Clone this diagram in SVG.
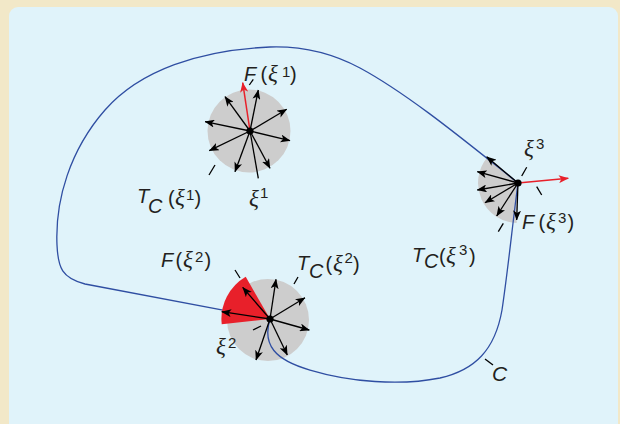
<svg xmlns="http://www.w3.org/2000/svg" width="620" height="424" viewBox="0 0 620 424">
<defs>
<style>
.lbl{font-family:"Liberation Sans",Arial,sans-serif;font-size:20px;fill:#231f20}
.it{font-style:italic}
.xi{font-family:"Liberation Serif","Times New Roman",serif;font-style:italic;font-size:23px}
.sup{font-size:15px;font-style:normal}
.arr{stroke:#000;stroke-width:1.3;fill:none;marker-end:url(#ah)}
.arr-red{stroke:#e8202a;stroke-width:1.5;fill:none;marker-end:url(#ahr)}
.tick{stroke:#000;stroke-width:1.3;fill:none}
.cone{fill:#cdcdcd}
.curve{stroke:#2f4ea2;stroke-width:1.3;fill:none}
</style>
<marker id="ah" viewBox="0 0 10 8" refX="9.5" refY="4" markerWidth="10" markerHeight="8" markerUnits="userSpaceOnUse" orient="auto"><path d="M0,0 L10,4 L0,8 L2.5,4 z" fill="#000"/></marker>
<marker id="ahr" viewBox="0 0 10 8" refX="9.5" refY="4" markerWidth="11" markerHeight="8" markerUnits="userSpaceOnUse" orient="auto"><path d="M0,0 L10,4 L0,8 L2.5,4 z" fill="#e8202a"/></marker>
</defs>
<rect x="0" y="0" width="620" height="424" fill="#f2e8c8"/>
<rect x="9" y="7" width="609" height="430" rx="9" fill="#e0f3fa"/>

<!-- cones (drawn below the curve) -->
<circle class="cone" cx="249" cy="131" r="41.5"/>
<circle class="cone" cx="268" cy="320" r="41"/>
<path class="cone" d="M518 183 L487.4 157.3 A40 40 0 0 0 516.6 223 Z"/>

<g id="connectors">
<path id="curve-C" class="curve" d="M270 319 C262 345 275 360 310 370 C350 382 400 386 440 378 C475 370 495 350 502 310 C508 270 513 220 518 183 C470 145 410 95 360 68 C330 52 300 46 270 47 C200 50 140 70 105 110 C70 150 55 200 57 245 C58 268 62 278 85 284 L270 319"/>
</g>

<g id="node-xi1">
<line class="arr-red" x1="250" y1="131" x2="242.7" y2="82.7"/>
<line class="arr" x1="250" y1="131" x2="258.3" y2="90"/>
<line class="arr" x1="250" y1="131" x2="225" y2="96.7"/>
<line class="arr" x1="250" y1="131" x2="286.7" y2="109.3"/>
<line class="arr" x1="250" y1="131" x2="205" y2="121.7"/>
<line class="arr" x1="250" y1="131" x2="290" y2="140.7"/>
<line class="arr" x1="250" y1="131" x2="209.3" y2="150.7"/>
<line class="arr" x1="250" y1="131" x2="235" y2="171.7"/>
<line class="arr" x1="250" y1="131" x2="270" y2="168.3"/>
<line class="tick" x1="250" y1="131" x2="258.3" y2="178.3"/>
<circle cx="250" cy="131" r="3.6" fill="#000"/>
<line class="tick" x1="249.3" y1="85" x2="253.3" y2="79.3"/>
<line class="tick" x1="209" y1="175" x2="215" y2="165"/>
<text class="lbl" y="81"><tspan x="244" class="it">F</tspan><tspan x="260.5">(</tspan><tspan x="268" class="xi">ξ</tspan><tspan x="282" y="77" class="sup">1</tspan><tspan x="290" y="81">)</tspan></text>
<text class="lbl" y="203"><tspan x="137" class="it">T</tspan><tspan x="148" y="213" class="it">C</tspan><tspan x="168" y="205">(</tspan><tspan x="175" class="xi">ξ</tspan><tspan x="186" y="200" class="sup">1</tspan><tspan x="194.5" y="205">)</tspan></text>
<text class="lbl" y="206"><tspan x="249" class="xi">ξ</tspan><tspan x="260" y="198" class="sup">1</tspan></text>
</g>

<g id="node-xi2">
<path d="M270 319 L245.7 276.7 A49 49 0 0 0 221.7 324.3 Z" fill="#e8202a"/>
<line class="arr" x1="270" y1="319" x2="242.7" y2="287.3"/>
<line class="arr" x1="270" y1="319" x2="221.7" y2="311.7"/>
<line class="arr" x1="270" y1="319" x2="276" y2="279.3"/>
<line class="arr" x1="270" y1="319" x2="305" y2="297.7"/>
<line class="arr" x1="270" y1="319" x2="309.3" y2="330"/>
<line class="arr" x1="270" y1="319" x2="287.3" y2="355"/>
<line class="arr" x1="270" y1="319" x2="256" y2="360"/>
<circle cx="270" cy="319" r="3.6" fill="#000"/>
<line class="tick" x1="235" y1="270" x2="240" y2="278"/>
<line class="tick" x1="294" y1="284" x2="298" y2="277"/>
<line class="tick" x1="253" y1="330" x2="261" y2="326"/>
<text class="lbl" y="267"><tspan x="161" class="it">F</tspan><tspan x="175.5">(</tspan><tspan x="183" class="xi">ξ</tspan><tspan x="195" y="262" class="sup">2</tspan><tspan x="204.5" y="267">)</tspan></text>
<text class="lbl" y="270"><tspan x="297" class="it">T</tspan><tspan x="309" y="278" class="it">C</tspan><tspan x="325.5" y="271">(</tspan><tspan x="333" class="xi">ξ</tspan><tspan x="344.5" y="263" class="sup">2</tspan><tspan x="353" y="271">)</tspan></text>
<text class="lbl" y="354"><tspan x="216" class="xi">ξ</tspan><tspan x="228" y="348" class="sup">2</tspan></text>
</g>

<g id="node-xi3">
<line class="arr" x1="518" y1="183" x2="486.7" y2="156.7"/>
<line class="arr" x1="518" y1="183" x2="477.3" y2="171.7"/>
<line class="arr" x1="518" y1="183" x2="477.3" y2="190"/>
<line class="arr" x1="518" y1="183" x2="485" y2="202.7"/>
<line class="arr" x1="518" y1="183" x2="496.7" y2="216"/>
<line class="arr" x1="518" y1="183" x2="516.7" y2="220"/>
<line class="arr-red" x1="518" y1="183" x2="568.3" y2="178.3"/>
<circle cx="518" cy="183" r="3.6" fill="#000"/>
<line class="tick" x1="521.7" y1="176" x2="526.7" y2="167.3"/>
<line class="tick" x1="536.7" y1="186.7" x2="541.7" y2="195"/>
<line class="tick" x1="503.3" y1="223.3" x2="498.3" y2="231.7"/>
<text class="lbl" y="156"><tspan x="524" class="xi">ξ</tspan><tspan x="536" y="149" class="sup">3</tspan></text>
<text class="lbl" y="229"><tspan x="522" class="it">F</tspan><tspan x="538.5">(</tspan><tspan x="546" class="xi">ξ</tspan><tspan x="558" y="223" class="sup">3</tspan><tspan x="567.5" y="229">)</tspan></text>
<text class="lbl" y="262"><tspan x="412" class="it">T</tspan><tspan x="424" y="268" class="it">C</tspan><tspan x="439" y="263">(</tspan><tspan x="446" class="xi">ξ</tspan><tspan x="459" y="255" class="sup">3</tspan><tspan x="469" y="263">)</tspan></text>
</g>

<g id="label-C">
<line class="tick" x1="485" y1="359" x2="493" y2="365"/>
<text class="lbl it" x="492" y="381" style="font-size:21px">C</text>
</g>
</svg>
